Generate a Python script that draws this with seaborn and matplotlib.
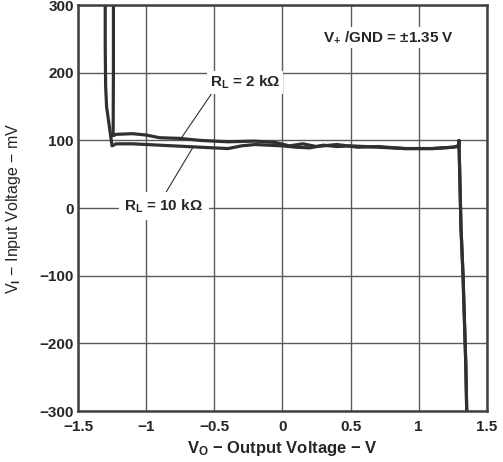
import matplotlib
matplotlib.use('Agg')
import matplotlib.pyplot as plt
import seaborn as sns
import pandas as pd

# R_L = 10 kOhm curve (V_O in V, V_I in mV)
vo_10k = [-1.30, -1.30, -1.297, -1.29, -1.25, -1.22, -1.1, -0.9, -0.7, -0.5, -0.4,
          -0.3, -0.2, -0.1, 0.0, 0.1, 0.2, 0.3, 0.4, 0.5, 0.7, 0.9, 1.1, 1.25, 1.29,
          1.295, 1.31, 1.325, 1.345, 1.352]
vi_10k = [300, 240, 180, 150, 92, 95, 95, 93, 91, 89, 88,
          92, 94, 93, 92, 90, 89, 93, 91, 92, 90, 88, 88, 90, 91,
          100, -30, -100, -230, -300]

# R_L = 2 kOhm curve
vo_2k = [-1.24, -1.24, -1.242, -1.22, -1.1, -1.0, -0.9, -0.75, -0.6, -0.4, -0.2,
         -0.05, 0.05, 0.15, 0.25, 0.4, 0.55, 0.7, 0.9, 1.1, 1.25, 1.29,
         1.295, 1.31, 1.325, 1.345, 1.352]
vi_2k = [300, 200, 107, 109, 110, 108, 104, 103, 100, 98, 99,
         97, 92, 95, 91, 94, 90, 91, 88, 88, 90, 92,
         100, -30, -100, -230, -300]

x_ticks = [-1.5, -1, -0.5, 0, 0.5, 1, 1.5]
x_labels = ['\u22121.5', '\u22121', '\u22120.5', '0', '0.5', '1', '1.5']
y_ticks = [-300, -200, -100, 0, 100, 200, 300]
y_labels = ['\u2212300', '\u2212200', '\u2212100', '0', '100', '200', '300']

sns.set_style('white')
plt.rcParams['font.family'] = ['Liberation Sans', 'DejaVu Sans']
plt.rcParams['mathtext.fontset'] = 'custom'
plt.rcParams['mathtext.rm'] = 'Liberation Sans:bold'
plt.rcParams['mathtext.it'] = 'Liberation Sans:bold'
plt.rcParams['mathtext.bf'] = 'Liberation Sans:bold'

ink = '#262626'
fig = plt.figure(figsize=(5.03, 4.62), dpi=100)
ax = fig.add_axes([0.155, 0.110, 0.813, 0.879])

df10 = pd.DataFrame({'vo': vo_10k, 'vi': vi_10k})
df2 = pd.DataFrame({'vo': vo_2k, 'vi': vi_2k})
sns.lineplot(data=df10, x='vo', y='vi', sort=False, ax=ax, color='#303030',
             linewidth=2.3, estimator=None)
sns.lineplot(data=df2, x='vo', y='vi', sort=False, ax=ax, color='#303030',
             linewidth=2.3, estimator=None)

ax.set_xlim(-1.5, 1.5)
ax.set_ylim(-300, 300)
ax.set_xticks(x_ticks)
ax.set_xticklabels(x_labels, fontsize=11, fontweight='bold', color=ink)
ax.set_yticks(y_ticks)
ax.set_yticklabels(y_labels, fontsize=11, fontweight='bold', color=ink)
ax.tick_params(length=0)
ax.tick_params(axis='x', pad=6)
ax.tick_params(axis='y', pad=3)
ax.grid(True, color='#5a5a5a', linewidth=1.0)
ax.set_axisbelow(True)
for s in ax.spines.values():
    s.set_color('#404040')
    s.set_linewidth(1.8)

ax.set_xlabel('V$_{\\mathrm{O}}$ \u2212 Output Voltage \u2212 V', fontsize=12,
              fontweight='bold', color=ink, labelpad=4)
ax.set_ylabel('V$_{\\mathrm{I}}$ \u2212 Input Voltage \u2212 mV', fontsize=11.5,
              color=ink, labelpad=12)

box = dict(facecolor='white', edgecolor='none', pad=2)
ax.plot([-0.517, -0.737], [170, 105], color='#303030', linewidth=0.8)
ax.plot([-0.876, -0.656], [16, 90], color='#303030', linewidth=0.8)
ax.text(-0.275, 186, 'R$_{\\mathrm{L}}$ = 2 k\u03a9', fontsize=11, fontweight='bold',
        color=ink, ha='center', va='center', bbox=box)
ax.text(-0.87, 3, 'R$_{\\mathrm{L}}$ = 10 k\u03a9', fontsize=11, fontweight='bold',
        color=ink, ha='center', va='center',
        bbox=dict(facecolor='white', edgecolor='none', pad=4))
ax.text(0.78, 252, 'V$_{+}$ /GND = \u00b11.35 V', fontsize=11, fontweight='bold',
        color=ink, ha='center', va='center', bbox=box)

fig.savefig('out.png', dpi=100)
